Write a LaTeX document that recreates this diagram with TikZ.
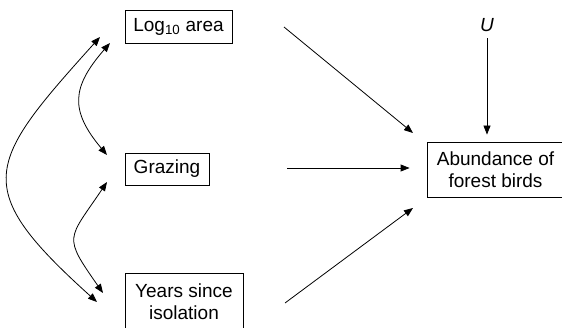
\documentclass[tikz,border=0pt]{standalone}
\usepackage{fontspec}
\setmainfont{Liberation Sans}
\usepackage{tikz}
\usetikzlibrary{arrows.meta}
\tikzset{every node/.append style={font=\fontsize{19}{22}\selectfont}}
\tikzset{varbox/.style={draw, line width=0.8pt, inner sep=0pt, align=center}}

\begin{document}
\begin{tikzpicture}[x=1pt, y=1pt, line width=0.8pt, >={Triangle[length=9pt, width=7pt]}]
    \useasboundingbox (0,0) rectangle (562,327);
    \node[varbox, minimum width=107, minimum height=33] (logarea) at (178.5,300.5) {Log\textsubscript{10} area};
    \node[varbox, minimum width=84, minimum height=32] (grazing) at (167,158) {Grazing};
    \node[varbox, minimum width=118, minimum height=57] (years) at (184,25.5) {Years since\\isolation};
    \node[varbox, minimum width=137, minimum height=55] (abund) at (495.5,157.5) {Abundance of\\forest birds};
    \node[font=\fontsize{19}{22}\selectfont\itshape] (u) at (487,302) {U};
    % ends of the correlation arcs
    \coordinate (la-a) at (100,290);
    \coordinate (la-b) at (110,284);
    \coordinate (gr-a) at (107,172);
    \coordinate (gr-b) at (107,145);
    \coordinate (ys-a) at (97,25);
    \coordinate (ys-b) at (103,34);
    \draw[<->] (la-a) to[out=228, in=138, looseness=1.65] (ys-a);
    \draw[<->] (la-b) to[out=229, in=130, looseness=1.33] (gr-a);
    \draw[<->] (gr-b) to[out=236, in=125, looseness=1.62] (ys-b);
    % paths to abundance
    \coordinate (p1) at (284,300);
    \coordinate (q1) at (413,194);
    \coordinate (p3) at (285,24);
    \coordinate (q3) at (413,119);
    \draw[->] (p1) -- (q1);
    \draw[->, shorten <=78pt, shorten >=17pt] (grazing.east |- 0,159) -- (abund.west |- 0,159);
    \draw[->] (p3) -- (q3);
    \draw[->, shorten <=3pt, shorten >=7pt] (u.south) -- (u.south |- abund.north);
\end{tikzpicture}
\end{document}
